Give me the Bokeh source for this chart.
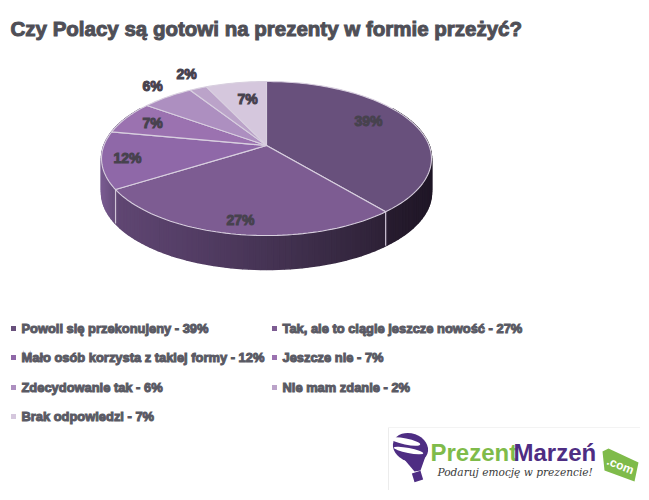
import math
from bokeh.plotting import figure
from bokeh.embed import file_html
from bokeh.resources import INLINE
from bokeh.core.properties import value

# ---- data ----
title_text = "Czy Polacy są gotowi na prezenty w formie przeżyć?"
categories = ["Powoli się przekonujeny", "Tak, ale to ciągle jeszcze nowość",
              "Mało osób korzysta z takiej formy", "Jeszcze nie",
              "Zdecydowanie tak", "Nie mam zdanie", "Brak odpowiedzi"]
shares = [39, 27, 12, 7, 6, 2, 7]
slice_colors = ["#68507c", "#7d5c92", "#8f68a8", "#9b72b0", "#ad8fc0", "#bba3c9", "#d5c7dd"]

# ---- layout (pixel positions of the reference image) ----
CX, CY, A, B, K, DEPTH = 266.0, 145.0, 162.6, 74.8, 0.169, 34.0
label_x = [368, 240, 127, 152, 152, 186, 247]
label_y = [120, 219, 157, 122, 85, 73, 98]
legend_x = [13, 274, 13, 274, 13, 274, 13]
legend_y = [328, 328, 357, 357, 387, 387, 416]
FONT = value("Liberation Sans")
INK = "#4a4a55"

W, H = 640, 490
p = figure(width=W, height=H, x_range=(0, W), y_range=(H, 0),
           output_backend="svg", toolbar_location=None,
           min_border=0, min_border_left=0, min_border_right=0, min_border_top=0, min_border_bottom=0)
p.axis.visible = False
p.grid.visible = False
p.outline_line_color = None
p.background_fill_color = "white"
p.border_fill_color = "white"


def project(frac, dz=0.0):
    t = 2 * math.pi * frac
    sx, sy = math.sin(t), math.cos(t)
    d = 1 + K * sy
    return CX + A * sx / d, CY - B * sy / d + dz


def mix(c1, c2, f):
    a = [int(c1[i:i + 2], 16) for i in (1, 3, 5)]
    b = [int(c2[i:i + 2], 16) for i in (1, 3, 5)]
    return "#%02x%02x%02x" % tuple(round(u + (v - u) * f) for u, v in zip(a, b))


def wall_color(x):
    stops = [(100, "#7a5c92"), (118, "#5f4672"), (200, "#523c63"), (300, "#3f2f4c"),
             (385, "#2d2136"), (388, "#271c2f"), (431, "#1f1626")]
    for (x0, c0), (x1, c1) in zip(stops, stops[1:]):
        if x <= x1:
            return mix(c0, c1, max(0, (x - x0) / (x1 - x0)))
    return stops[-1][1]


# side wall, drawn as narrow strips going round the visible rim
xs, ys, cs = [], [], []
N = 140
for i in range(N):
    f0, f1 = 0.16 + i * 0.68 / N, 0.16 + (i + 1) * 0.68 / N
    x0, y0 = project(f0)
    x1, y1 = project(f1)
    x2, y2 = project(f1, DEPTH)
    x3, y3 = project(f0, DEPTH)
    xs.append([x0, x1, x2, x3])
    ys.append([y0, y1, y2, y3])
    cs.append(wall_color((x0 + x1) / 2))
p.patches(xs, ys, fill_color=cs, line_color=cs, line_width=1.6)

# seams on the wall between visible slices
cum = 0
fracs = []
for s in shares:
    fracs.append((cum / 100, (cum + s) / 100))
    cum += s
for frac in (fracs[0][1], fracs[1][1]):
    a, b = project(frac), project(frac, DEPTH)
    p.line([a[0], b[0]], [a[1], b[1]], line_color="#cfc4d6", line_width=1.2)

# top face
tx, ty = [], []
for f0, f1 in fracs:
    n = max(3, int((f1 - f0) * 240))
    pts = [project(f0 + (f1 - f0) * j / n) for j in range(n + 1)]
    tx.append([CX] + [q[0] for q in pts])
    ty.append([CY] + [q[1] for q in pts])
p.patches(tx, ty, fill_color=slice_colors, line_color="#d8cfdf", line_width=1.1)

# value labels
p.text(label_x, label_y, text=[f"{s}%" for s in shares], text_font=FONT, text_font_style="bold",
       text_font_size="14px", text_color="#47424e", text_outline_color="#47424e",
       text_align="center", text_baseline="middle")

# title
p.text([10], [28], text=[title_text], text_font=FONT, text_font_style="bold",
       text_font_size="20.5px", text_color="#4f4f57", text_outline_color="#4f4f57",
       text_align="left", text_baseline="middle")

# legend
p.scatter(legend_x, legend_y, marker="square", size=5, fill_color=slice_colors, line_color=None)
p.text([x + 8 for x in legend_x], legend_y,
       text=[f"{c} - {s}%" for c, s in zip(categories, shares)],
       text_font=FONT, text_font_style="bold", text_font_size="12.9px", text_color="#5a5a64",
       text_outline_color="#5a5a64", text_align="left", text_baseline="middle")

# logo
GREEN, PURPLE = "#7fbb4a", "#4e2d83"
p.line([388, 388], [427, 490], line_color="#ececec", line_width=1)
p.line([388, 640], [427, 427], line_color="#f3f3f3", line_width=1)
p.ellipse([410], [447], width=[36], height=[28], angle=[-0.35], fill_color=PURPLE, line_color=None)
p.ellipse([405], [441], width=[30], height=[6], angle=[-0.2], fill_color="white", line_color=None)
p.ellipse([408], [450], width=[30], height=[5], angle=[-0.2], fill_color="white", line_color=None)
p.patch([403, 426, 420, 414], [458, 453, 470, 471], fill_color=PURPLE, line_color=None)
p.rect([417], [476], width=[9], height=[9], angle=[0.3], fill_color=PURPLE, line_color=None)
p.text([430], [452], text=["Prezent"], text_font=FONT, text_font_style="bold",
       text_font_size="24px", text_color=GREEN, text_baseline="middle")
p.text([513], [452], text=["Marzeń"], text_font=FONT, text_font_style="bold",
       text_font_size="24px", text_color=PURPLE, text_baseline="middle")
p.text([437], [471], text=["Podaruj emocję w prezencie!"], text_font=value("DejaVu Serif"),
       text_font_style="italic", text_font_size="10.6px", text_color="#3a3a3a", text_baseline="middle")
p.patch([602, 608, 638, 634, 604], [451, 448, 462, 481, 470], fill_color=GREEN, line_color=None)
p.text([620], [465], text=[".com"], angle=[-0.38], text_font=FONT, text_font_style="bold",
       text_font_size="12px", text_color="white", text_align="center", text_baseline="middle")

open("out.html", "w").write(file_html(p, INLINE))
